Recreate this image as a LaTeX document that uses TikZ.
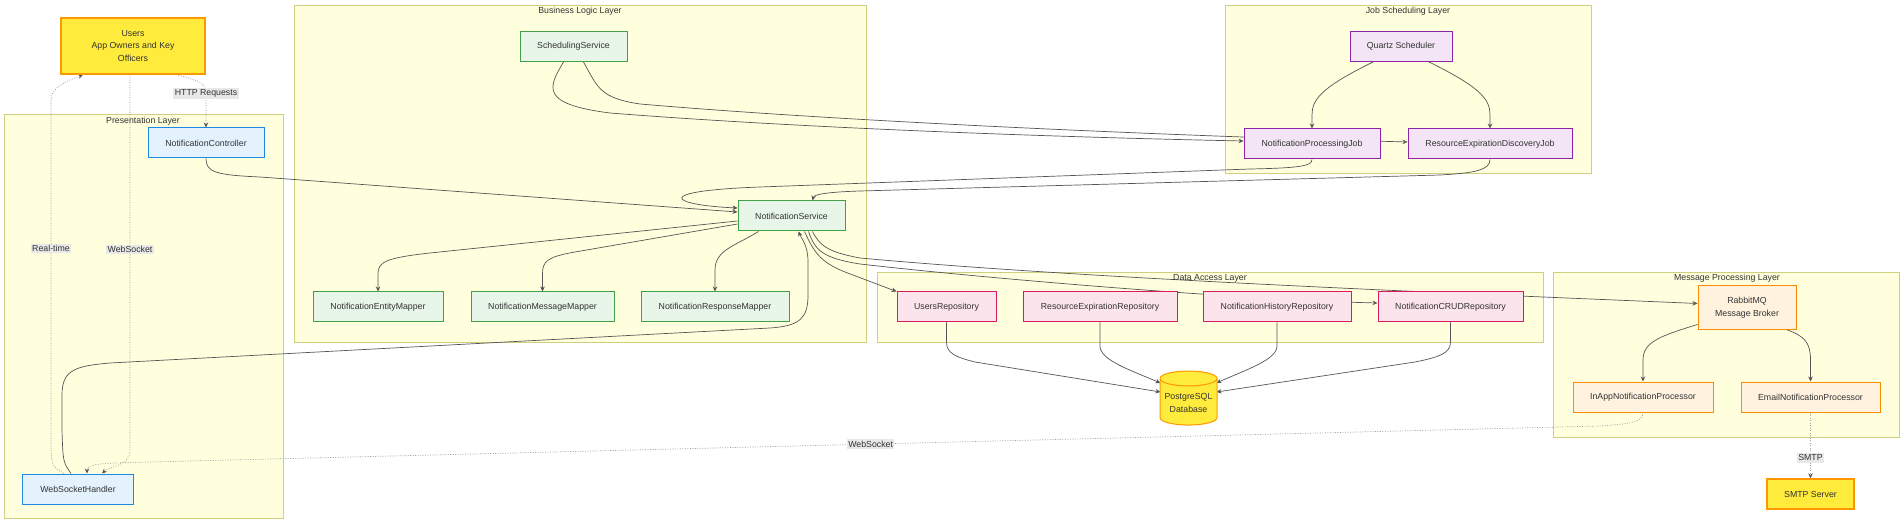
\documentclass[tikz,border=0pt]{standalone}
\usepackage{fontspec}
\setmainfont{Liberation Sans}
\usetikzlibrary{arrows.meta,calc,shapes.geometric}
\pgfdeclarelayer{back}
\pgfdeclarelayer{edges}
\pgfsetlayers{back,edges,main}

\begin{document}
\begin{tikzpicture}
		[x=1bp,y=-1bp,line cap=round,
		font=\fontsize{8.8}{13}\selectfont,
		%Styles
		>={Stealth[length=5bp,width=4.5bp,color=edgecolor]},
		layer/.style={draw=layerline,fill=layerfill,line width=0.8bp},
		layer title/.style={text=textcolor,inner sep=1bp},
		box/.style={draw,line width=1bp,text=textcolor,minimum height=30bp,inner sep=2bp,align=center},
		user/.style={box,fill=userfill,draw=userline,line width=1.4bp},
		pres/.style={box,fill=presfill,draw=presline},
		biz/.style={box,fill=bizfill,draw=bizline},
		job/.style={box,fill=jobfill,draw=jobline},
		repo/.style={box,fill=repofill,draw=repoline},
		mq/.style={box,fill=mqfill,draw=mqline},
		store/.style={cylinder,shape border rotate=90,aspect=0.3,draw=userline,fill=userfill,line width=1bp,
			minimum width=57bp,minimum height=54bp,inner sep=1bp,align=center,text=textcolor},
		flow/.style={draw=edgecolor,line width=0.7bp,->},
		dotflow/.style={flow,draw=dotcolor,dash pattern=on 1bp off 1.5bp},
		edge label/.style={fill=labelfill,text=textcolor,inner sep=1.5bp}
		]
		
		%Colors
		\definecolor{textcolor}{HTML}{333333}
		\definecolor{edgecolor}{HTML}{555555}
		\definecolor{dotcolor}{HTML}{A0A0A0}
		\definecolor{labelfill}{HTML}{E8E8E8}
		\definecolor{layerfill}{HTML}{FFFFDE}
		\definecolor{layerline}{HTML}{CFCF80}
		\definecolor{userfill}{HTML}{FFEB3B}
		\definecolor{userline}{HTML}{FF9800}
		\definecolor{presfill}{HTML}{E3F2FD}
		\definecolor{presline}{HTML}{1E88E5}
		\definecolor{bizfill}{HTML}{E8F5E9}
		\definecolor{bizline}{HTML}{43A047}
		\definecolor{jobfill}{HTML}{F3E5F5}
		\definecolor{jobline}{HTML}{8E24AA}
		\definecolor{repofill}{HTML}{FCE4EC}
		\definecolor{repoline}{HTML}{D81B60}
		\definecolor{mqfill}{HTML}{FFF3E0}
		\definecolor{mqline}{HTML}{FB8C00}
		
		\useasboundingbox (0,0) rectangle (1904,527);
		
		%Layers
		\begin{pgfonlayer}{back}
			\fill[white] (0,0) rectangle (1904,527);
			\draw[layer] (4,114) rectangle (283,518);
			\draw[layer] (294,5) rectangle (866,342);
			\draw[layer] (1225,5) rectangle (1591,173);
			\draw[layer] (877,272) rectangle (1543,342);
			\draw[layer] (1553,272) rectangle (1899,437);
		\end{pgfonlayer}
		\node[layer title] (presentation) at (143,121) {Presentation Layer};
		\node[layer title] (business) at (580,11) {Business Logic Layer};
		\node[layer title] (scheduling) at (1408,11) {Job Scheduling Layer};
		\node[layer title] (dataaccess) at (1210,278) {Data Access Layer};
		\node[layer title] (messaging) at (1727,278) {Message Processing Layer};
		
		%The graphic
		\node[user,minimum width=144bp,minimum height=56bp] (users) at (133,46) {Users\\App Owners and Key\\Officers};
		\node[pres,minimum width=116bp] (ctrl) at (206,143) {NotificationController};
		\node[pres,minimum width=110bp] (wsh) at (78,489) {WebSocketHandler};
		
		\node[biz,minimum width=107bp] (ss) at (573.5,46.5) {SchedulingService};
		\node[biz,minimum width=107bp] (ns) at (791.5,216) {NotificationService};
		\node[biz,minimum width=130bp] (nem) at (378,307) {NotificationEntityMapper};
		\node[biz,minimum width=143bp] (nmm) at (542.5,307) {NotificationMessageMapper};
		\node[biz,minimum width=148bp] (nrm) at (715,307) {NotificationResponseMapper};
		
		\node[job,minimum width=102bp] (qs) at (1401,46.5) {Quartz Scheduler};
		\node[job,minimum width=136bp] (npj) at (1312,144) {NotificationProcessingJob};
		\node[job,minimum width=164bp] (redj) at (1490,144) {ResourceExpirationDiscoveryJob};
		
		\node[repo,minimum width=99bp] (ur) at (946.5,307) {UsersRepository};
		\node[repo,minimum width=154bp] (rer) at (1100,307) {ResourceExpirationRepository};
		\node[repo,minimum width=148bp] (nhr) at (1277,307) {NotificationHistoryRepository};
		\node[repo,minimum width=145bp] (ncr) at (1450.5,307) {NotificationCRUDRepository};
		\node[store] (db) at (1188.5,403) {PostgreSQL\\Database};
		
		\node[mq,minimum width=98bp,minimum height=43bp] (rabbit) at (1747,307.5) {RabbitMQ\\Message Broker};
		\node[mq,minimum width=140bp] (inapp) at (1643,397) {InAppNotificationProcessor};
		\node[mq,minimum width=139bp] (email) at (1810.5,397) {EmailNotificationProcessor};
		\node[user,minimum width=87bp] (smtp) at (1810.5,494) {SMTP Server};
		
		\begin{pgfonlayer}{edges}
			\draw[dotflow] ($(users.south)+(43,0)$) .. controls (198,80) and (206,84) .. (206,92) -- node[edge label,pos=0.05] (httplabel) {HTTP Requests} (ctrl.north);
			\draw[dotflow] ($(wsh.north)+(-14,0)$) .. controls (52,466) .. (51,448) -- node[edge label,pos=0.573] (rtlabel) {Real-time} (51,100) .. controls (51,86) and (70,80) .. ($(users.south)+(-50,0)$);
			\draw[dotflow] ($(users.south)+(-3,0)$) -- node[edge label,pos=0.466] (wslabel) {WebSocket} (130,450) .. controls (130,466) and (110,466) .. ($(wsh.north)+(24,0)$);
			\draw[dotflow] (inapp.south) .. controls (1643,422) and (1630,424) .. (1600,426) -- node[edge label,pos=0.503] (pushlabel) {WebSocket} (150,462) .. controls (100,463) and (87,464) .. ($(wsh.north)+(9,0)$);
			
			\draw[flow] (ctrl.south) .. controls (206,172) and (215,175) .. (260,177) -- ($(ns.west)+(0,-4)$);
			\draw[flow] ($(wsh.north)+(-7,0)$) .. controls (63,462) .. (62,430) -- (62,395) .. controls (62,370) and (75,366) .. (110,363) -- (770,328) .. controls (800,326) and (808,318) .. (808,295) -- (808,262) .. controls (808,245) and (802,240) .. ($(ns.south)+(7,0)$);
			
			\draw[flow] ($(ss.south)+(-10,0)$) .. controls (548,88) and (540,104) .. (610,113) .. controls (800,128) and (1050,137) .. ($(npj.west)+(0,-3)$);
			\draw[flow] ($(ss.south)+(10,0)$) .. controls (598,88) and (600,98) .. (640,104) .. controls (850,122) and (1150,134) .. (1300,139) -- ($(redj.west)+(0,-2)$);
			\draw[flow] ($(qs.south)+(-28,0)$) .. controls (1320,88) and (1312,100) .. (1312,115) -- (npj.north);
			\draw[flow] ($(qs.south)+(28,0)$) .. controls (1482,88) and (1490,100) .. (1490,115) -- (redj.north);
			\draw[flow] (npj.south) .. controls (1312,166) and (1300,168) .. (1250,169) -- (760,187) .. controls (650,191) and (670,205) .. ($(ns.west)+(0,-8)$);
			\draw[flow] (redj.south) .. controls (1490,170) and (1475,173) .. (1440,175) -- (860,191) .. controls (830,192) and (814,194) .. ($(ns.north)+(21,0)$);
			
			\draw[flow] ($(ns.west)+(0,5)$) -- (430,253) .. controls (385,258) and (378,262) .. (378,274) -- (nem.north);
			\draw[flow] ($(ns.west)+(0,8)$) -- (575,252) .. controls (546,257) and (542.5,262) .. (542.5,274) -- (nmm.north);
			\draw[flow] ($(ns.south)+(-33,0)$) .. controls (735,246) and (715,250) .. (715,270) -- (nrm.north);
			
			\draw[flow] ($(ns.south)+(13,0)$) .. controls (814,252) and (820,262) .. (845,272) -- (ur.north west);
			\draw[flow] ($(ns.south)+(17,0)$) .. controls (815,250) and (822,258) .. (860,264) .. controls (1000,280) and (1250,300) .. ($(ncr.west)+(0,-4)$);
			\draw[flow] ($(ns.south)+(21,0)$) .. controls (820,246) and (828,252) .. (860,258) .. controls (1100,280) and (1500,295) .. ($(rabbit.west)+(0,-4)$);
			
			\draw[flow] (ur.south) -- (946.5,342) .. controls (946.5,353) and (955,357) .. (975,362) -- ($(db.center)+(-28,-11)$);
			\draw[flow] (rer.south) -- (1100,346) .. controls (1100,360) and (1130,370) .. ($(db.center)+(-28,-20)$);
			\draw[flow] (nhr.south) -- (1277,346) .. controls (1277,360) and (1245,370) .. ($(db.center)+(28,-20)$);
			\draw[flow] (ncr.south) -- (1450.5,342) .. controls (1450.5,353) and (1440,357) .. (1415,362) -- ($(db.center)+(28,-11)$);
			
			\draw[flow] ($(rabbit.south west)+(0,-5)$) .. controls (1660,336) and (1643,342) .. (1643,360) -- (inapp.north);
			\draw[flow] ($(rabbit.south)+(39,0)$) .. controls (1805,336) and (1810.5,343) .. (1810.5,360) -- (email.north);
			\draw[dotflow] (email.south) -- node[edge label,pos=0.69] (smtplabel) {SMTP} (smtp.north);
		\end{pgfonlayer}
	\end{tikzpicture}
\end{document}
